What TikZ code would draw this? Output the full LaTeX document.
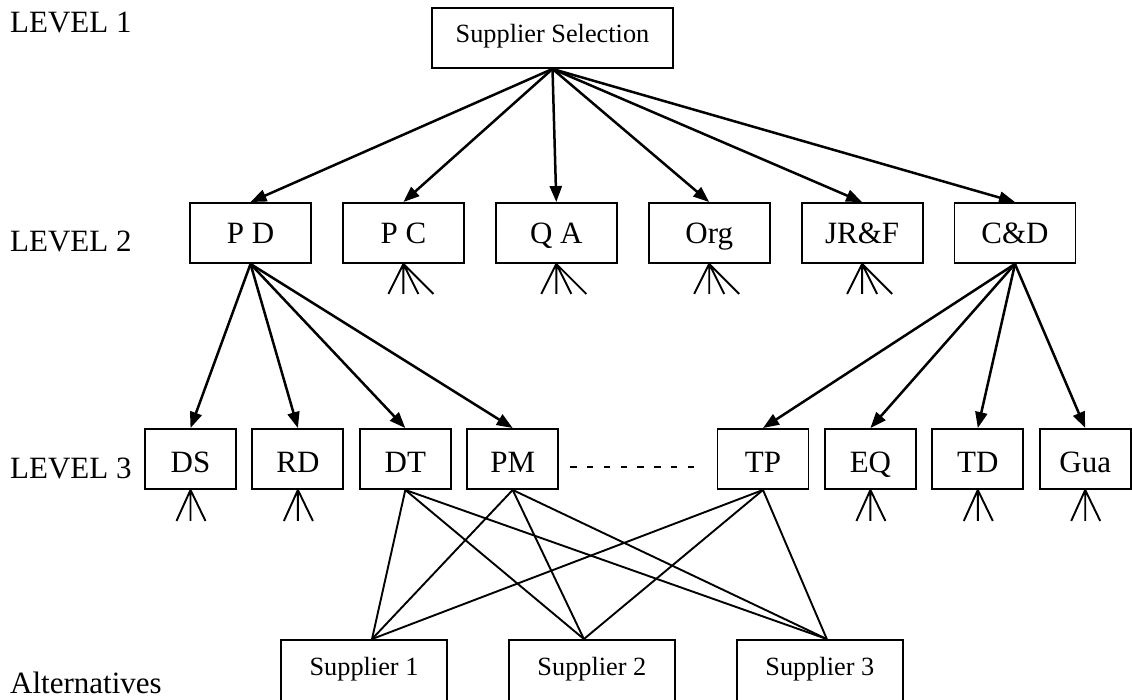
\documentclass[tikz,border=0pt]{standalone}
\usepackage{fontspec}
\setmainfont{Liberation Serif}
\usepackage{tikz}
\usetikzlibrary{arrows.meta,positioning}

\begin{document}
\begin{tikzpicture}
[
    x = 1pt, y = -1pt,
    box/.style  = {draw, line width = 1.9pt, inner sep = 0pt, font = \fontsize{31}{31}\selectfont},
    lev2/.style = {box, minimum width = 121pt, minimum height = 60pt, text height = 21pt, text depth = 0pt},
    lev3/.style = {box, minimum width = 91pt, minimum height = 60pt, text height = 26pt, text depth = 0pt},
    alt/.style  = {box, minimum width = 166pt, minimum height = 64pt, font = \fontsize{26.3}{26}\selectfont, text height = 15.8pt, text depth = 9.7pt},
    goal/.style = {box, minimum width = 241pt, minimum height = 60pt, font = \fontsize{26.3}{26}\selectfont, text height = 18.4pt, text depth = 8.4pt},
    levtext/.style = {anchor = base west, inner sep = 0pt, font = \fontsize{31}{31}\selectfont},
    arr/.style  = {line width = 2.5pt, -{Triangle[length = 16pt, width = 12pt]}},
    fan/.style  = {line width = 1.9pt},
    link/.style = {line width = 1.9pt}
]
\useasboundingbox (0,0) rectangle (1132,700);

\node[levtext] (l1) at (10,33) {LEVEL 1};
\node[levtext] (l2) at (10,252) {LEVEL 2};
\node[levtext] (l3) at (10,478) {LEVEL 3};
\node[levtext] (l4) at (10,693) {Alternatives};

\node[goal] (top) at (552.5,38) {Supplier Selection};

\node[lev2] (pd) at (250.5,233) {P D};
\node[lev2, right = 30pt of pd]  (pc)  {P C};
\node[lev2, right = 30pt of pc]  (qa)  {Q A};
\node[lev2, right = 30pt of qa]  (org) {Org};
\node[lev2, right = 30pt of org] (jrf) {JR\&F};
\node[lev2, right = 30pt of jrf] (cd)  {C\&D};

\node[lev3] (ds) at (190.5,459) {DS};
\node[lev3, right = 14.5pt of ds] (rd) {RD};
\node[lev3, right = 14.5pt of rd] (dt) {DT};
\node[lev3, right = 14.5pt of dt] (pm) {PM};
\node[lev3] (tp) at (763,459) {TP};
\node[lev3, right = 14.5pt of tp] (eq)  {EQ};
\node[lev3, right = 14.5pt of eq] (td)  {TD};
\node[lev3, right = 14.5pt of td] (gua) {Gua};

\node[alt] (s1) at (364,672) {Supplier 1};
\node[alt, right = 60pt of s1] (s2) {Supplier 2};
\node[alt, right = 60pt of s2] (s3) {Supplier 3};

\coordinate (s1in) at ([xshift = 8pt]s1.north);
\coordinate (s2in) at ([xshift = -8pt]s2.north);
\coordinate (s3in) at ([xshift = 7pt]s3.north);

\foreach \n in {pd,pc,qa,org,jrf,cd}
    \draw[arr] (top.south) -- (\n.north);
\foreach \n in {ds,rd,dt,pm}
    \draw[arr] (pd.south) -- (\n.north);
\foreach \n in {tp,eq,td,gua}
    \draw[arr] (cd.south) -- (\n.north);

\foreach \n in {pc,qa,org,jrf}
    \draw[fan] (\n.south) -- ++(-15,30) (\n.south) -- ++(0,30)
               (\n.south) -- ++(15,30) (\n.south) -- ++(30,30);
\foreach \n in {ds,rd,eq,td,gua}
    \draw[fan] (\n.south) -- ++(-14,31) (\n.south) -- ++(0,31)
               (\n.south) -- ++(15,31);

\foreach \a in {dt,pm,tp}
    \foreach \b in {s1in,s2in,s3in}
        \draw[link] (\a.south) -- (\b);

\draw[line width = 1.8pt, dash pattern = on 6.5pt off 10.3pt]
    ([xshift = 11pt, yshift = -8pt]pm.east) -- ([xshift = -16pt, yshift = -8pt]tp.west);
\end{tikzpicture}
\end{document}
